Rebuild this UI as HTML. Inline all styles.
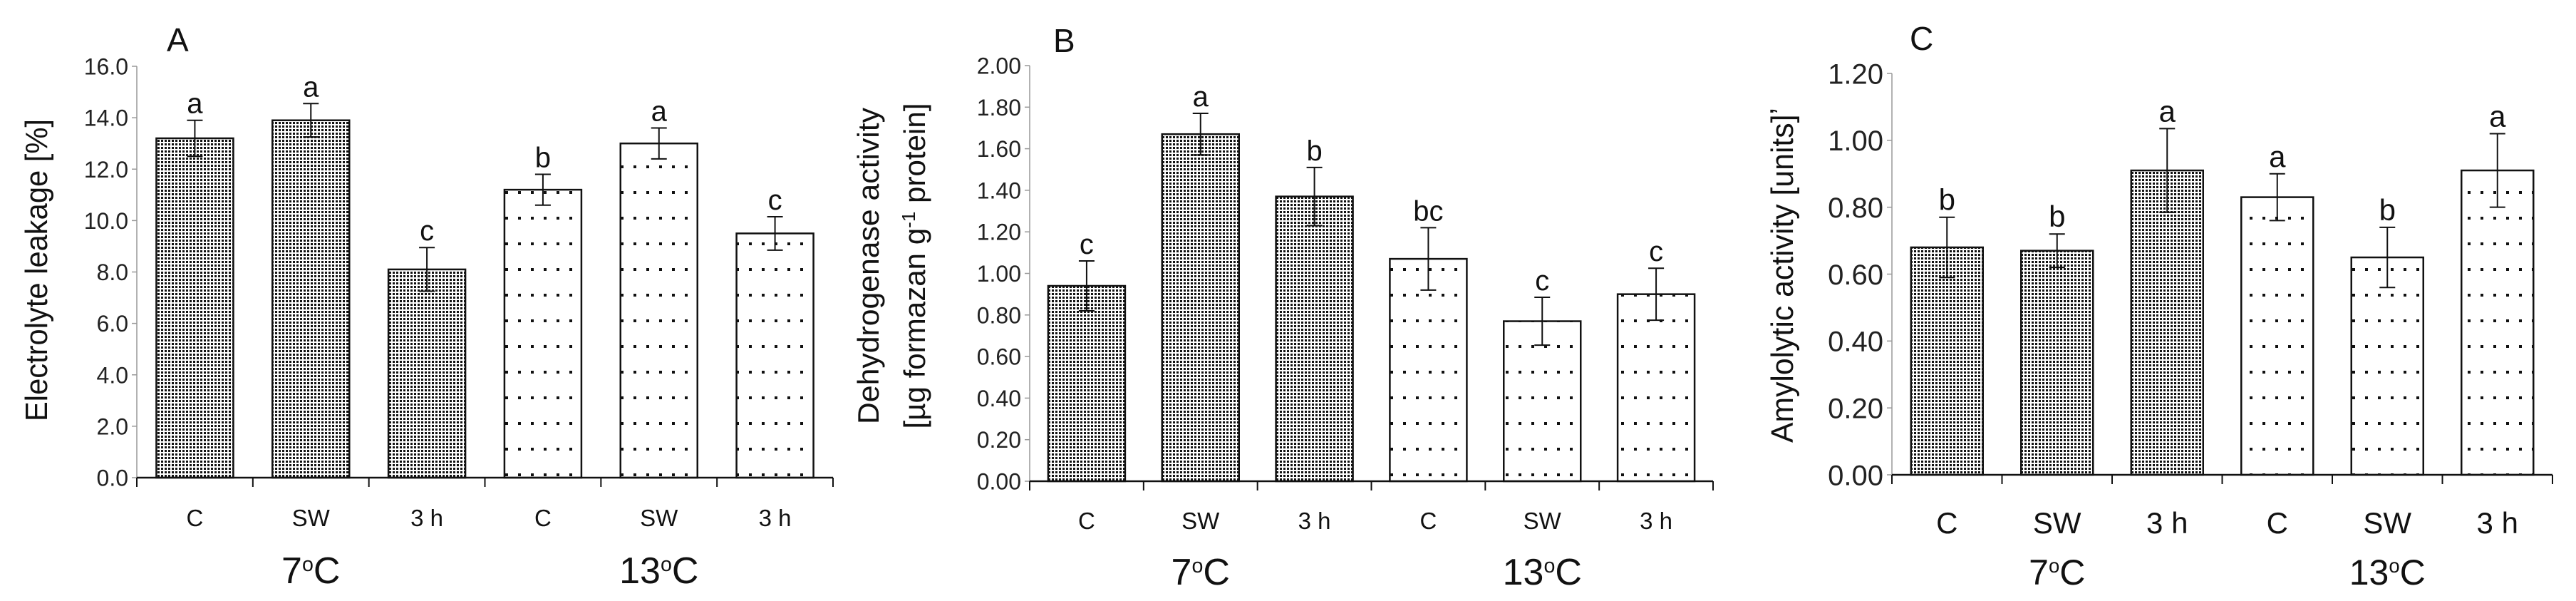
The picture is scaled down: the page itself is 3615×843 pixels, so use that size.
<!DOCTYPE html>
<html><head><meta charset="utf-8"><style>
html,body{margin:0;padding:0;background:#fff;overflow:hidden;}
svg{display:block;font-family:"Liberation Sans",sans-serif;}
</style></head><body>
<svg id="fig" width="3615" height="843" viewBox="0 0 3615 843" xmlns="http://www.w3.org/2000/svg">
<defs>
<pattern id="dense" width="5" height="5" patternUnits="userSpaceOnUse"><rect width="5" height="5" fill="#fff"/><rect x="1" y="1" width="3" height="3" fill="#111"/></pattern>
<pattern id="sparse" width="18" height="36" patternUnits="userSpaceOnUse"><rect width="18" height="36" fill="#fff"/><rect x="7" y="16" width="4" height="4" fill="#111"/></pattern>
</defs>
</svg>
<script>
const categories = ["C","SW","3 h","C","SW","3 h"];
const groups = ["7","13"];
const valuesA = [13.2,13.9,8.1,11.2,13.0,9.5];
const errorsA = [0.7,0.65,0.85,0.6,0.6,0.65];
const lettersA = ["a","a","c","b","a","c"];
const ticksA = ["0.0","2.0","4.0","6.0","8.0","10.0","12.0","14.0","16.0"];
const valuesB = [0.94,1.67,1.37,1.07,0.77,0.90];
const errorsB = [0.12,0.10,0.14,0.15,0.115,0.125];
const lettersB = ["c","a","b","bc","c","c"];
const ticksB = ["0.00","0.20","0.40","0.60","0.80","1.00","1.20","1.40","1.60","1.80","2.00"];
const valuesC = [0.68,0.67,0.91,0.83,0.65,0.91];
const errorsC = [0.09,0.05,0.125,0.07,0.09,0.11];
const lettersC = ["b","b","a","a","b","a"];
const ticksC = ["0.00","0.20","0.40","0.60","0.80","1.00","1.20"];

const NS="http://www.w3.org/2000/svg";
const svg=document.getElementById('fig');
function mk(tag,attrs,parent){const e=document.createElementNS(NS,tag);for(const k in attrs)e.setAttribute(k,attrs[k]);(parent||svg).appendChild(e);return e;}

function panel(p){
  const g=mk('g',{});
  
  
  const max=parseFloat(p.ticks[p.ticks.length-1]);
  const y=v=>p.y0-(v/max)*(p.y0-p.yTop);
  const step=(p.xEnd-p.x0)/categories.length;
  const x=i=>p.x0+step*(i+0.5);
  const ya=mk('line',{x1:p.x0,y1:p.yTop,x2:p.x0,y2:p.y0,stroke:'#999','stroke-width':1.5},g);
  
  
  p.ticks.forEach(t=>{
    const v=parseFloat(t);
    mk('line',{x1:p.x0-7,x2:p.x0,y1:y(v),y2:y(v),stroke:'#999','stroke-width':1.5},g);
    const tx=mk('text',{x:p.x0-12,y:y(v)+p.tfs*0.36,'text-anchor':'end','font-size':p.tfs,fill:'#222'},g);
    tx.textContent=t;
    
    
  });
  p.values.forEach((v,i)=>{
    const r=mk('rect',{x:x(i)-p.bw/2,y:y(v),width:p.bw,height:p.y0-y(v),fill:i<3?'url(#dense)':'url(#sparse)',stroke:'#111','stroke-width':2.5},g);
    
    
    const e=p.errors[i], cx=x(i);
    const eb=mk('path',{d:`M${cx},${y(v+e)}V${y(v-e)}M${cx-11},${y(v+e)}H${cx+11}M${cx-11},${y(v-e)}H${cx+11}`,stroke:'#111','stroke-width':2,fill:'none'},g);
    
    
    const lt=mk('text',{x:cx,y:y(v+e)-10,'text-anchor':'middle','font-size':p.lfs,fill:'#111'},g);
    lt.textContent=p.letters[i];
    
    
    const cl=mk('text',{x:cx,y:p.catY,'text-anchor':'middle','font-size':p.cfs,fill:'#111'},g);
    cl.textContent=categories[i];
    
    
  });
  const xa=mk('line',{x1:p.x0,y1:p.y0,x2:p.xEnd,y2:p.y0,stroke:'#111','stroke-width':2.5},g);
  
  
  for(let i=0;i<=categories.length;i++){mk('line',{x1:p.x0+step*i,x2:p.x0+step*i,y1:p.y0,y2:p.y0+13,stroke:'#111','stroke-width':2},g);}
  groups.forEach((gname,j)=>{
    const gt=mk('text',{x:x(3*j+1),y:p.grpY,'text-anchor':'middle','font-size':p.gfs,fill:'#111'},g);
    gt.innerHTML=gname+'<tspan dy="-17" font-size="'+(p.gfs*0.55)+'">o</tspan><tspan dy="17">C</tspan>';
    
    
  });
  const pl=mk('text',{x:p.labX,y:p.labY,'font-size':46,fill:'#111'},g);
  pl.textContent=p.id;
  
  
  p.titles.forEach((t,k)=>{
    const tt=mk('text',{x:0,y:0,'text-anchor':'middle','font-size':p.yfs,fill:'#111',textLength:p.titleLen[k],lengthAdjust:'spacingAndGlyphs',transform:`translate(${p.titleX[k]},${p.titleY}) rotate(-90)`},g);
    tt.innerHTML=t;
    
    
  });
}
panel({id:'A',values:valuesA,errors:errorsA,letters:lettersA,ticks:ticksA,x0:192,xEnd:1169,yTop:93,y0:670,bw:108,tfs:32,lfs:40,cfs:33,gfs:52,catY:738,grpY:818,labX:234,labY:72,titles:['Electrolyte leakage [%]'],titleLen:[424],titleX:[66],titleY:379,yfs:44});
panel({id:'B',values:valuesB,errors:errorsB,letters:lettersB,ticks:ticksB,x0:1445,xEnd:2404,yTop:92,y0:675,bw:108,tfs:32,lfs:40,cfs:33,gfs:52,catY:742,grpY:820,labX:1478,labY:73,titles:['Dehydrogenase activity','[\u00B5g formazan g<tspan dy="-14" font-size="26">-1</tspan><tspan dy="14"> protein]</tspan>'],titleLen:[444,457],titleX:[1233,1298],titleY:373,yfs:42});
panel({id:'C',values:valuesC,errors:errorsC,letters:lettersC,ticks:ticksC,x0:2655,xEnd:3582,yTop:103,y0:666,bw:101,tfs:40,lfs:42,cfs:42,gfs:50,catY:748,grpY:820,labX:2680,labY:70,titles:['Amylolytic activity [units]\u02BC'],titleLen:[470],titleX:[2516],titleY:386,yfs:44});
</script>
</body></html>
